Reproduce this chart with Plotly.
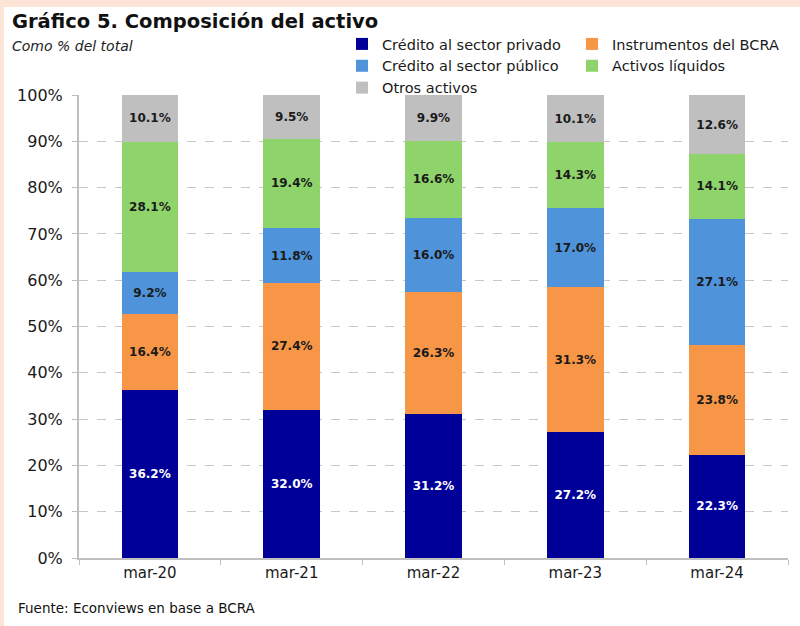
import plotly.graph_objects as go

categories = ["mar-20", "mar-21", "mar-22", "mar-23", "mar-24"]
credito_privado = [36.2, 32.0, 31.2, 27.2, 22.3]
instrumentos_bcra = [16.4, 27.4, 26.3, 31.3, 23.8]
credito_publico = [9.2, 11.8, 16.0, 17.0, 27.1]
activos_liquidos = [28.1, 19.4, 16.6, 14.3, 14.1]
otros_activos = [10.1, 9.5, 9.9, 10.1, 12.6]
y_ticks = [0, 10, 20, 30, 40, 50, 60, 70, 80, 90, 100]
y_tick_labels = [f"{v}%" for v in y_ticks]

W, H = 800, 626
ML, MR, MT, MB = 79, 12, 95, 68
PW, PH = W - ML - MR, H - MT - MB

def px_x(p):
    return (p - ML) / PW

def px_y(p):
    return (H - MB - p) / PH

FONT = "DejaVu Sans"
TXT = "#1a1a1a"

series = [
    ("Crédito al sector privado", credito_privado, "#000099", "white", "legend"),
    ("Instrumentos del BCRA", instrumentos_bcra, "#F79646", TXT, "legend2"),
    ("Crédito al sector público", credito_publico, "#4F93DB", TXT, "legend"),
    ("Activos líquidos", activos_liquidos, "#8ED46B", TXT, "legend2"),
    ("Otros activos", otros_activos, "#BFBFBF", TXT, "legend"),
]

fig = go.Figure()
for name, vals, color, tcolor, leg in series:
    fig.add_trace(go.Bar(
        x=categories, y=vals, name=name, marker=dict(color=color, line=dict(width=0)),
        texttemplate="<b>%{y:.1f}%</b>", textposition="inside", insidetextanchor="middle",
        textangle=0, constraintext="none",
        textfont=dict(family=FONT, size=12, color=tcolor), legend=leg,
        hoverinfo="skip",
    ))

fig.update_layout(
    barmode="stack", bargap=0.6,
    width=W, height=H,
    margin=dict(l=ML, r=MR, t=MT, b=MB),
    paper_bgcolor="white", plot_bgcolor="white",
    font=dict(family=FONT, size=14, color=TXT),
    legend=dict(x=px_x(342), y=px_y(28), xanchor="left", yanchor="top",
                orientation="v", font=dict(size=14.5, color=TXT), tracegroupgap=0,
                bgcolor="rgba(0,0,0,0)", itemclick=False, traceorder="normal"),
    legend2=dict(x=px_x(572), y=px_y(28), xanchor="left", yanchor="top",
                 orientation="v", font=dict(size=14.5, color=TXT), tracegroupgap=0,
                 bgcolor="rgba(0,0,0,0)", itemclick=False, traceorder="normal"),
    showlegend=True,
)

fig.update_xaxes(
    showline=True, linecolor="#BFBFBF", linewidth=2,
    ticks="outside", tickson="boundaries", ticklen=5, tickcolor="#BFBFBF",
    tickfont=dict(size=15, color=TXT), showgrid=False,
)
fig.update_yaxes(
    range=[0, 100], tickvals=y_ticks, ticktext=y_tick_labels,
    showline=True, linecolor="#BFBFBF", linewidth=2,
    ticks="outside", ticklen=5, tickcolor="#BFBFBF", ticklabelstandoff=6,
    showgrid=True, gridcolor="#C8C8C8", griddash="dash", gridwidth=1,
    tickfont=dict(size=16, color=TXT), zeroline=False,
)

# peach frame strips
fig.add_shape(type="rect", xref="paper", yref="paper", x0=px_x(0), x1=px_x(W), y0=px_y(7), y1=px_y(0),
              fillcolor="#FCE4D6", line=dict(width=0), layer="below")
fig.add_shape(type="rect", xref="paper", yref="paper", x0=px_x(0), x1=px_x(4), y0=px_y(H), y1=px_y(0),
              fillcolor="#FCE4D6", line=dict(width=0), layer="below")

fig.add_annotation(text="<b>Gráfico 5. Composición del activo</b>", xref="paper", yref="paper",
                   x=px_x(10), y=px_y(8), xanchor="left", yanchor="top", showarrow=False,
                   font=dict(size=19.5, color="#111111"))
fig.add_annotation(text="<i>Como % del total</i>", xref="paper", yref="paper",
                   x=px_x(10), y=px_y(36), xanchor="left", yanchor="top", showarrow=False,
                   font=dict(size=14, color="#222222"))
fig.add_annotation(text="Fuente: Econviews en base a BCRA", xref="paper", yref="paper",
                   x=px_x(16), y=px_y(598), xanchor="left", yanchor="top", showarrow=False,
                   font=dict(size=13.5, color="#111111"))

fig.write_html("out.html", config={"displayModeBar": False},
               post_script="document.body.style.margin='0';document.body.style.padding='0';")
